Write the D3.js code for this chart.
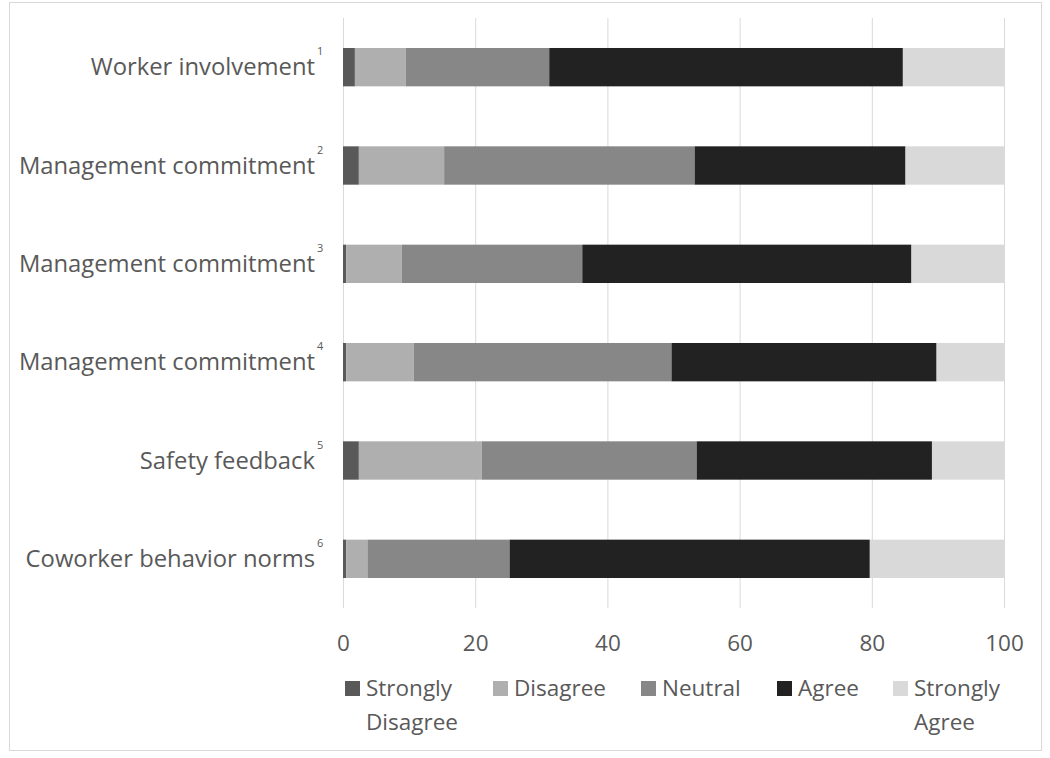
<!DOCTYPE html>
<html>
<head>
<meta charset="utf-8">
<script src="https://cdn.jsdelivr.net/npm/d3@7"></script>
<style>
  html, body { margin: 0; padding: 0; background: #fff; }
  svg { display: block; font-family: "Open Sans", sans-serif; }
</style>
</head>
<body>
<svg id="chart" width="1050" height="758"></svg>
<script>
// ---- Data ----
const categories = ["Worker involvement", "Management commitment", "Management commitment",
                    "Management commitment", "Safety feedback", "Coworker behavior norms"];
const superscripts = ["1", "2", "3", "4", "5", "6"];
const seriesNames = ["Strongly Disagree", "Disagree", "Neutral", "Agree", "Strongly Agree"];
const stronglyDisagree = [1.8, 2.4, 0.5, 0.5, 2.4, 0.5];
const disagree         = [7.7, 12.9, 8.4, 10.2, 18.6, 3.2];
const neutral          = [21.7, 37.9, 27.3, 39.0, 32.5, 21.5];
const agree            = [53.5, 31.9, 49.8, 40.1, 35.6, 54.5];
const stronglyAgree    = [15.3, 14.9, 14.0, 10.2, 10.9, 20.3];
const xTicks = [0, 20, 40, 60, 80, 100];
const colors = ["#595959", "#afafaf", "#878787", "#222222", "#d9d9d9"];

const seriesValues = [stronglyDisagree, disagree, neutral, agree, stronglyAgree];
const rows = categories.map((c, i) => {
  const r = { idx: i };
  seriesNames.forEach((s, j) => r[s] = seriesValues[j][i]);
  return r;
});

const svg = d3.select("#chart");
const textColor = "#595959";

// outer border
svg.append("rect").attr("x", 9.5).attr("y", 2.5).attr("width", 1032).attr("height", 748)
  .attr("fill", "#fff").attr("stroke", "#d9d9d9").attr("stroke-width", 1);

const plotTop = 18, plotBottom = 608;
const x = d3.scaleLinear().domain([0, 100]).range([343, 1004]);
const y = d3.scaleBand().domain(d3.range(categories.length)).range([plotTop, plotBottom])
  .paddingInner(0.61).paddingOuter(0.305);

// gridlines + tick labels
const axis = svg.append("g").attr("transform", `translate(0,${plotBottom})`)
  .call(d3.axisBottom(x).tickValues(xTicks).tickSize(-(plotBottom - plotTop)).tickFormat(d3.format("d")));
axis.select(".domain").remove();
axis.selectAll(".tick line").attr("stroke", "#d9d9d9").attr("stroke-width", 1);
axis.selectAll(".tick text").attr("fill", textColor).attr("font-size", 22.5)
  .attr("font-family", "Open Sans, sans-serif").attr("dy", 0).attr("y", 43);

// stacked bars
const stack = d3.stack().keys(seriesNames)(rows);
svg.append("g").selectAll("g").data(stack).join("g")
  .attr("fill", (d, i) => colors[i])
  .selectAll("rect").data(d => d).join("rect")
  .attr("x", d => x(d[0]))
  .attr("width", d => x(d[1]) - x(d[0]))
  .attr("y", d => y(d.data.idx))
  .attr("height", y.bandwidth());

// category labels with superscripts
const labels = svg.append("g");
categories.forEach((c, i) => {
  const cy = y(i) + y.bandwidth() / 2;
  labels.append("text").attr("x", 315).attr("y", cy + 8)
    .attr("text-anchor", "end").attr("fill", textColor).attr("font-size", 23.8)
    .text(c);
  labels.append("text").attr("x", 317).attr("y", cy - 12)
    .attr("text-anchor", "start").attr("fill", textColor).attr("font-size", 11)
    .text(superscripts[i]);
});

// legend
const legendX = [345, 493, 641, 777, 893];
const legendLines = [["Strongly", "Disagree"], ["Disagree"], ["Neutral"], ["Agree"], ["Strongly", "Agree"]];
const legend = svg.append("g");
seriesNames.forEach((s, i) => {
  const g = legend.append("g").attr("transform", `translate(${legendX[i]},0)`);
  g.append("rect").attr("x", 0).attr("y", 681).attr("width", 15).attr("height", 15).attr("fill", colors[i]);
  const t = g.append("text").attr("x", 21).attr("y", 696).attr("fill", textColor).attr("font-size", 22.5);
  legendLines[i].forEach((ln, k) => {
    t.append("tspan").attr("x", 21).attr("y", 696 + k * 34).text(ln);
  });
});
</script>
</body>
</html>
